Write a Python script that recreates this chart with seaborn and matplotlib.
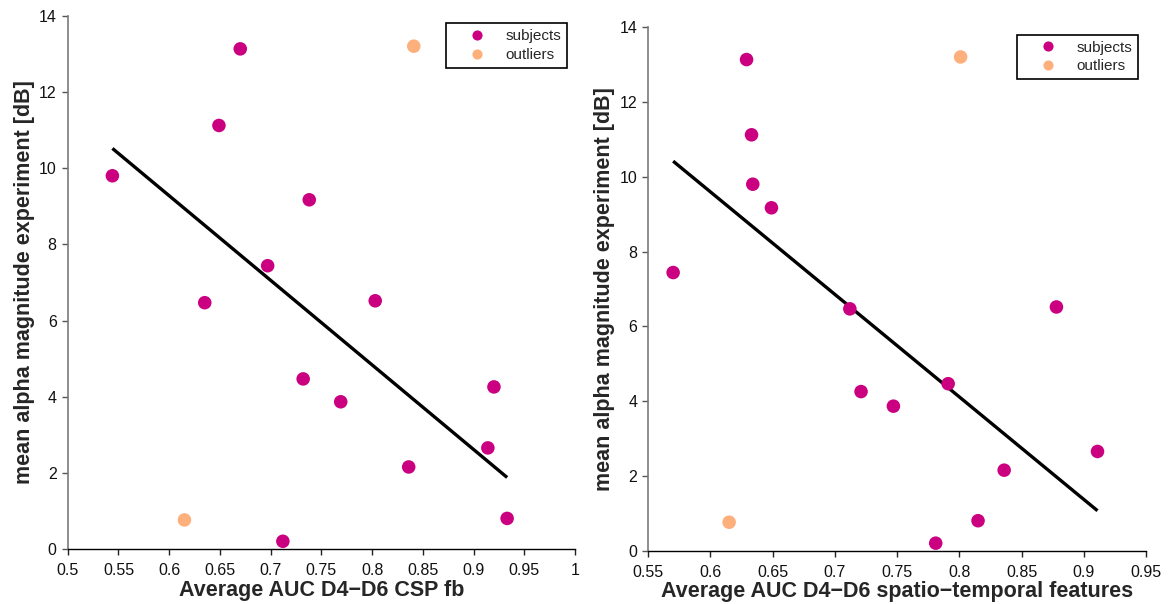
import numpy as np
import pandas as pd
import matplotlib
matplotlib.use("Agg")
import matplotlib.pyplot as plt
import seaborn as sns

# ---- data ----
alpha_subjects = [13.13, 11.12, 9.80, 9.17, 7.44, 6.47, 6.52, 4.47, 4.26, 3.87, 2.66, 2.16, 0.81, 0.21]
auc_csp_subjects = [0.670, 0.649, 0.544, 0.738, 0.697, 0.635, 0.803, 0.732, 0.920, 0.769, 0.914, 0.836, 0.933, 0.712]
auc_st_subjects = [0.629, 0.633, 0.634, 0.649, 0.570, 0.712, 0.878, 0.791, 0.721, 0.747, 0.911, 0.836, 0.815, 0.781]

alpha_outliers = [13.20, 0.77]
auc_csp_outliers = [0.841, 0.615]
auc_st_outliers = [0.801, 0.615]

group_labels = ["subjects", "outliers"]
csp_xticks = [0.5, 0.55, 0.6, 0.65, 0.7, 0.75, 0.8, 0.85, 0.9, 0.95, 1.0]
st_xticks = [0.55, 0.6, 0.65, 0.7, 0.75, 0.8, 0.85, 0.9, 0.95]
yticks = [0, 2, 4, 6, 8, 10, 12, 14]

xlabel_csp = "Average AUC D4\u2212D6 CSP fb"
xlabel_st = "Average AUC D4\u2212D6 spatio\u2212temporal features"
ylabel = "mean alpha magnitude experiment [dB]"

colors = {"subjects": "#CB0080", "outliers": "#FDB07C"}

sns.set_style("ticks")
plt.rcParams["font.family"] = ["Liberation Sans", "DejaVu Sans"]

fig = plt.figure(figsize=(11.68, 6.04), dpi=100)
ax1 = fig.add_axes([0.058, 0.0906, 0.4344, 0.8834])
ax2 = fig.add_axes([0.555, 0.0877, 0.4262, 0.8676])


def fmt(v):
    s = ("%.2f" % v).rstrip("0").rstrip(".")
    return s


def panel(ax, xs_sub, xs_out, xlim, xticks, xlabel):
    df = pd.DataFrame({
        "auc": list(xs_sub) + list(xs_out),
        "alpha": alpha_subjects + alpha_outliers,
        "group": [group_labels[0]] * len(xs_sub) + [group_labels[1]] * len(xs_out),
    })
    sns.regplot(x=list(xs_sub), y=alpha_subjects, ax=ax, scatter=False, ci=None,
                color="black", line_kws={"linewidth": 2.4, "solid_capstyle": "butt"})
    sns.scatterplot(data=df, x="auc", y="alpha", hue="group", palette=colors,
                    hue_order=group_labels, s=95, edgecolor="none", ax=ax, zorder=3)
    ax.set_xlim(*xlim)
    ax.set_ylim(0, 14)
    ax.set_xticks(xticks)
    ax.set_xticklabels([fmt(v) for v in xticks])
    ax.set_yticks(yticks)
    ax.set_yticklabels([str(v) for v in yticks])
    ax.tick_params(axis="both", labelsize=11.5, direction="out", length=4, width=1,
                   colors="#222222", pad=4)
    ax.tick_params(axis="y", colors="#555555", labelcolor="#111111")
    ax.tick_params(axis="x", labelcolor="#111111", pad=6)
    sns.despine(ax=ax)
    ax.spines["left"].set_color("#7a7a7a")
    ax.spines["left"].set_linewidth(1.2)
    ax.spines["bottom"].set_color("black")
    ax.spines["bottom"].set_linewidth(1.0)
    ax.set_xlabel(xlabel, fontsize=15.5, fontweight="bold", labelpad=1)
    ax.set_ylabel(ylabel, fontsize=15.5, fontweight="bold", labelpad=3)
    handles, labels = ax.get_legend_handles_labels()
    leg = ax.legend(handles, labels, loc="upper right", fontsize=11, frameon=True,
                    fancybox=False, edgecolor="black", framealpha=1,
                    handlelength=3.3, handletextpad=0.2, labelspacing=0.3,
                    borderpad=0.4, borderaxespad=0.5, markerscale=0.75, title=None)
    leg.get_frame().set_linewidth(1.2)


panel(ax1, auc_csp_subjects, auc_csp_outliers, (0.5, 1.0), csp_xticks, xlabel_csp)
panel(ax2, auc_st_subjects, auc_st_outliers, (0.55, 0.95), st_xticks, xlabel_st)

fig.savefig("out.png", dpi=100)
